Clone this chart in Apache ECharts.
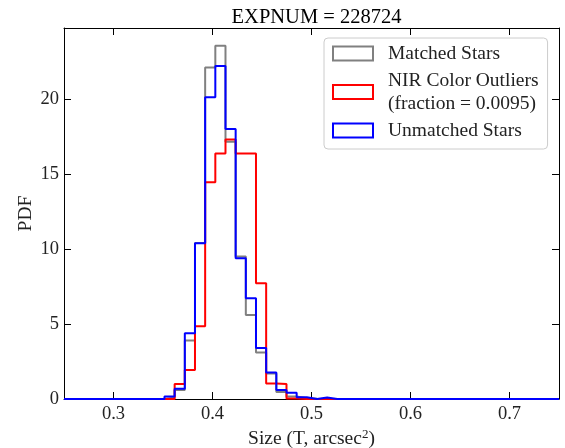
<!DOCTYPE html>
<html>
<head>
<meta charset="utf-8">
<script src="https://cdn.jsdelivr.net/npm/echarts@6/dist/echarts.min.js"></script>
<style>
html,body{margin:0;padding:0;background:#fff;}
#chart{width:565px;height:448px;}
</style>
</head>
<body>
<div id="chart"></div>
<script>
// ---- data ----
const title = 'EXPNUM = 228724';
const seriesNames = ['Matched Stars', 'NIR Color Outliers', 'Unmatched Stars'];
const legendLabels = ['Matched Stars', 'NIR Color Outliers\n(fraction = 0.0095)', 'Unmatched Stars'];
const binStart = 0.3515;
const binWidth = 0.01027;
const matched   = [0.10, 0.60, 3.90, 10.40, 22.10, 23.55, 17.15, 9.50, 5.60, 3.10, 1.70, 0.47, 0.16, 0.05, 0.02, 0.00, 0.00];
const outliers  = [0.00, 1.00, 1.93, 4.85, 14.45, 16.36, 17.30, 16.36, 16.36, 7.71, 1.04, 1.00, 0.03, 0.00, 0.00, 0.00, 0.00];
const unmatched = [0.16, 0.69, 4.38, 10.38, 20.12, 22.20, 18.00, 9.38, 6.71, 3.40, 1.77, 0.60, 0.42, 0.11, 0.00, 0.10, 0.00];
const xTicks = [0.3, 0.4, 0.5, 0.6, 0.7];
const yTicks = [0, 5, 10, 15, 20];
const xRange = [0.25, 0.75];
const yRange = [0, 24.73];

const colors = ['#808080', '#ff0000', '#0000ff'];
const FONT = 'Liberation Serif';

function stepData(vals) {
  const pts = [[xRange[0], 0]];
  vals.forEach((v, i) => pts.push([binStart + i * binWidth, v]));
  pts.push([binStart + vals.length * binWidth, 0]);
  pts.push([xRange[1], 0]);
  return pts;
}

const allVals = [matched, outliers, unmatched];

const chart = echarts.init(document.getElementById('chart'));
const axisCommon = {
  axisLine: {show: true, onZero: false, lineStyle: {color: '#000', width: 1}},
  axisTick: {show: true, inside: true, length: 7, lineStyle: {color: '#000', width: 1}},
  splitLine: {show: false}
};
chart.setOption({
  animation: false,
  backgroundColor: '#fff',
  textStyle: {fontFamily: FONT},
  title: {
    text: title, left: 311.5, textAlign: 'center', top: 2,
    textStyle: {fontFamily: FONT, fontSize: 20.5, fontWeight: 'normal', color: '#000'}
  },
  grid: {left: 64, right: 6, top: 28, bottom: 49, containLabel: false, outerBoundsMode: 'none'},
  legend: {
    orient: 'vertical', left: 324, top: 38,
    padding: [4, 9, 7, 8],
    itemGap: 4, itemWidth: 40, itemHeight: 14,
    backgroundColor: 'rgba(255,255,255,0.8)',
    borderColor: '#cccccc', borderWidth: 1, borderRadius: 4,
    textStyle: {fontFamily: FONT, fontSize: 19.5, color: '#222', lineHeight: 23, padding: [0, 0, 0, 10]},
    formatter: name => legendLabels[seriesNames.indexOf(name)],
    data: seriesNames.map((n, i) => ({
      name: n, icon: 'rect',
      itemStyle: {color: '#fff', borderColor: colors[i], borderWidth: 2}
    }))
  },
  xAxis: [
    Object.assign({}, axisCommon, {
      type: 'value', min: xRange[0], max: xRange[1], position: 'bottom',
      axisTick: Object.assign({}, axisCommon.axisTick, {customValues: xTicks}),
      axisLabel: {customValues: xTicks, formatter: v => v.toFixed(1), margin: 6,
        fontFamily: FONT, fontSize: 18.5, color: '#222'},
      name: 'Size (T, arcsec{sup|2})', nameLocation: 'middle', nameGap: 29, nameMoveOverlap: false,
      nameTextStyle: {fontFamily: FONT, fontSize: 19.5, color: '#222',
        rich: {sup: {fontFamily: FONT, fontSize: 13, color: '#222', verticalAlign: 'top', padding: [0, 0, 8, 0]}}}
    }),
    Object.assign({}, axisCommon, {
      type: 'value', min: xRange[0], max: xRange[1], position: 'top',
      axisTick: Object.assign({}, axisCommon.axisTick, {customValues: xTicks}),
      axisLabel: {show: false}
    })
  ],
  yAxis: [
    Object.assign({}, axisCommon, {
      type: 'value', min: yRange[0], max: yRange[1], position: 'left',
      axisTick: Object.assign({}, axisCommon.axisTick, {customValues: yTicks}),
      axisLabel: {customValues: yTicks, margin: 5, fontFamily: FONT, fontSize: 18.5, color: '#222'},
      name: 'PDF', nameLocation: 'middle', nameGap: 28, nameRotate: 90, nameMoveOverlap: false,
      nameTextStyle: {fontFamily: FONT, fontSize: 19.5, color: '#222'}
    }),
    Object.assign({}, axisCommon, {
      type: 'value', min: yRange[0], max: yRange[1], position: 'right',
      axisTick: Object.assign({}, axisCommon.axisTick, {customValues: yTicks}),
      axisLabel: {show: false}
    })
  ],
  series: seriesNames.map((n, i) => ({
    name: n, type: 'line', step: 'end', xAxisIndex: 0, yAxisIndex: 0,
    data: stepData(allVals[i]),
    showSymbol: false, symbol: 'none', clip: true,
    lineStyle: {color: colors[i], width: 2},
    itemStyle: {color: colors[i]},
    z: 3 + i
  }))
});
</script>
</body>
</html>
